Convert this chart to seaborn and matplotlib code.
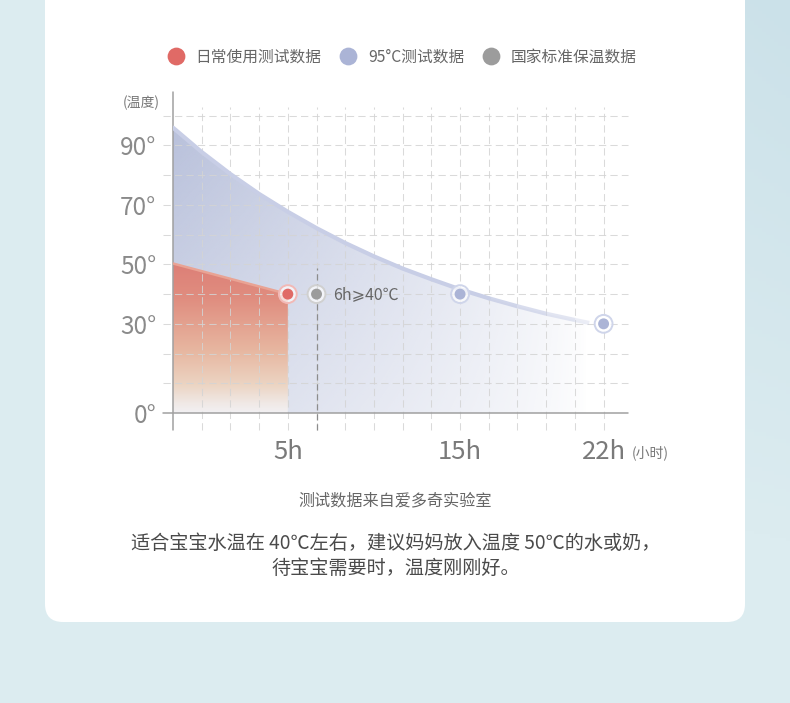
import numpy as np
import matplotlib
matplotlib.use("Agg")
import matplotlib.pyplot as plt
import seaborn as sns
from matplotlib.patches import FancyBboxPatch
from matplotlib.lines import Line2D
from matplotlib.transforms import blended_transform_factory

# --- data ---
BLUE_HOURS = [0, 1.25, 2.5, 3.75, 5, 6, 7.8, 9.6, 11.4, 13.2, 15, 16.4, 17.8, 19.2, 20.6, 21.3]
BLUE_TEMPS = [96, 87.8, 80.4, 73.7, 67.7, 62.2, 57.2, 52.7, 48.6, 45.0, 41.6, 38.6, 35.9, 33.4, 31.3, 30.3]
RED_HOURS = [0, 5]
RED_TEMPS = [50.3, 40]
POINT_HOURS = [5, 6, 15, 22]
POINT_TEMPS = [40, 40, 40, 30]
POINT_GROUP = ["daily", "national", "test95", "test95"]
X_TICKS = [5, 15, 22]
X_LABELS = ["5h", "15h", "22h"]
Y_TICKS = [0, 30, 50, 70, 90]
Y_LABELS = ["0°", "30°", "50°", "70°", "90°"]
LEGEND_LABELS = ["日常使用测试数据", "95°C测试数据", "国家标准保温数据"]
NOTE = "6h⩾40℃"

# the x axis is not linear in hours: piecewise scale between knots (grid slots)
KNOT_HOURS = [0, 5, 6, 15, 22, 30]
KNOT_SLOTS = [0, 4, 5, 10, 15, 15 + 8 / 1.4]

COLORS = {"daily": "#e06a66", "test95": "#abb4d6", "national": "#9c9c9c"}
RINGS = {"daily": "#f2b9b6", "test95": "#cfd5ea", "national": "#d0d0d0"}

sns.set_theme(style="white")
plt.rcParams["font.family"] = ["Noto Sans CJK SC", "DejaVu Sans"]

W, H = 790, 703
fig = plt.figure(figsize=(W / 100, H / 100), dpi=100)

# background + white card
bg = fig.add_axes([0, 0, 1, 1])
bg.set_xlim(0, W)
bg.set_ylim(H, 0)
bg.axis("off")
gx = np.linspace(0, 1, 200)
gy = np.linspace(0, 1, 200)
GX, GY = np.meshgrid(gx, gy)
shade = np.clip(GX * (1 - GY) * 1.3 - 0.3, 0, 1)
base = np.array([220, 236, 240]) / 255
dark = np.array([203, 225, 233]) / 255
bg_img = base[None, None, :] * (1 - shade[..., None]) + dark[None, None, :] * shade[..., None]
bg.imshow(bg_img, extent=[0, W, H, 0], aspect="auto", zorder=0)
bg.add_patch(FancyBboxPatch((45, -40), 700, 662, boxstyle="round,pad=0,rounding_size=18",
                            facecolor="white", edgecolor="none", zorder=1))

# texts on the card
bg.text(141, 103, "(温度)", fontsize=10, color="#777777", ha="center", va="center", zorder=2)
bg.text(650, 453, "(小时)", fontsize=10, color="#777777", ha="center", va="center", zorder=2)
bg.text(395, 501, "测试数据来自爱多奇实验室", fontsize=11.6, color="#666666",
        ha="center", va="center", zorder=2)
bg.text(396, 543, "适合宝宝水温在 40℃左右，建议妈妈放入温度 50℃的水或奶，", fontsize=13.8,
        color="#4a4a4a", ha="center", va="center", zorder=2)
bg.text(396, 568, "待宝宝需要时，温度刚刚好。", fontsize=13.8, color="#4a4a4a",
        ha="center", va="center", zorder=2)

# chart axes
ax = fig.add_axes([173 / W, 1 - 413 / H, 455 / W, 321 / H])
ax.set_facecolor("none")
ax.set_xscale("function", functions=(lambda h: np.interp(h, KNOT_HOURS, KNOT_SLOTS),
                                     lambda s: np.interp(s, KNOT_SLOTS, KNOT_HOURS)))
x_max = np.interp(15.85, KNOT_SLOTS, KNOT_HOURS)
YMAX = 108

# blue area with horizontal fade
blue_fill = ax.fill_between(BLUE_HOURS, BLUE_TEMPS, 0, facecolor="none", edgecolor="none")
fx = np.linspace(0, 1, 400)
fy = np.linspace(0, 1, 200)
FX, FY = np.meshgrid(fx, fy)
alpha = np.clip(1 - FX / 0.91, 0, 1) ** 0.72 * np.clip(0.58 + 0.42 * FY / 0.85, 0, 1)
blue_rgba = np.zeros((200, 400, 4))
blue_rgba[..., :3] = np.array([186, 194, 220]) / 255
blue_rgba[..., 3] = alpha
im_b = ax.imshow(blue_rgba, extent=[0, 1, 0, 1], transform=ax.transAxes, origin="lower",
                 aspect="auto", zorder=1, interpolation="bilinear")
im_b.set_clip_path(blue_fill.get_paths()[0], ax.transData)

# red area with vertical gradient
red_fill = ax.fill_between(RED_HOURS, RED_TEMPS, 0, facecolor="none", edgecolor="none")
deg = fy * YMAX
stop_deg = [0, 3, 9, 21, 38, 51]
stop_col = np.array([(242, 240, 242), (240, 233, 230), (236, 213, 196),
                     (231, 182, 160), (224, 142, 128), (221, 126, 118)]) / 255
red_col = np.stack([np.interp(deg, stop_deg, stop_col[:, c]) for c in range(3)], axis=1)
red_rgba = np.ones((200, 2, 4))
red_rgba[..., :3] = red_col[:, None, :]
im_r = ax.imshow(red_rgba, extent=[0, 1, 0, 1], transform=ax.transAxes, origin="lower",
                 aspect="auto", zorder=2, interpolation="bilinear")
im_r.set_clip_path(red_fill.get_paths()[0], ax.transData)

# grid (dashed, overshooting the axes)
inv = lambda s: np.interp(s, KNOT_SLOTS, KNOT_HOURS)
grid_kw = dict(color="#d4d4d4", lw=0.75, linestyle=(0, (7, 4)), alpha=0.85, clip_on=False, zorder=3)
ax.vlines(inv(np.arange(1, 16)), -17 / 2.97, 103, **grid_kw)
htrans = blended_transform_factory(ax.transAxes, ax.transData)
for yv in range(10, 101, 10):
    ax.plot([-10 / 455, 1], [yv, yv], transform=htrans, **grid_kw)

# 6h marker line
ax.vlines(6, -17 / 2.97, 48.8, color="#8c8c8c", lw=0.9, linestyle=(0, (5, 3)),
          clip_on=False, zorder=3)

# axis lines
ax.plot([-10 / 455, 1], [0, 0], transform=htrans, color="#a0a0a0", lw=1.1, clip_on=False, zorder=4)
vtrans = blended_transform_factory(ax.transData, ax.transAxes)
ax.plot([0, 0], [-17 / 321, 1], transform=vtrans, color="#a0a0a0", lw=1.1, clip_on=False, zorder=4)

# curves: blue line fades out over its last part
n_solid = 12
sns.lineplot(x=BLUE_HOURS[:n_solid], y=BLUE_TEMPS[:n_solid], ax=ax, color="#c8cee6", lw=3.0,
             zorder=4, sort=False)
n_tail = len(BLUE_HOURS) - n_solid + 1
for k in range(n_tail - 1):
    i = n_solid - 1 + k
    ax.plot(BLUE_HOURS[i:i + 2], BLUE_TEMPS[i:i + 2], color="#c8cee6", lw=3.0, zorder=4,
            alpha=1 - 0.8 * (k + 1) / n_tail, solid_capstyle="butt")
sns.lineplot(x=RED_HOURS, y=RED_TEMPS, ax=ax, color="#e9a394", lw=1.8, zorder=4)

# points with halo rings
sns.scatterplot(x=POINT_HOURS, y=POINT_TEMPS, hue=POINT_GROUP, palette=RINGS, ax=ax,
                s=165, linewidth=1.4, legend=False, zorder=5)
ring_coll = ax.collections[-1]
ring_coll.set_facecolor((1, 1, 1, 0.7))
ring_coll.set_edgecolor([RINGS[g] for g in POINT_GROUP])
sns.scatterplot(x=POINT_HOURS, y=POINT_TEMPS, hue=POINT_GROUP, palette=COLORS, ax=ax,
                s=62, edgecolor="none", legend=False, zorder=6)

ax.annotate(NOTE, (6, 40), xytext=(17, 0), textcoords="offset pixels", fontsize=11.5,
            color="#666666", va="center", ha="left", zorder=6,
            family=["Noto Sans CJK SC", "DejaVu Sans"])

ax.set_xlim(0, x_max)
ax.set_ylim(0, YMAX)
ax.set_xticks(X_TICKS, X_LABELS)
ax.set_yticks(Y_TICKS, Y_LABELS)
ax.tick_params(axis="x", length=0, pad=19, labelsize=18.5, labelcolor="#7a7a7a")
ax.tick_params(axis="y", length=0, pad=12, labelsize=17.5, labelcolor="#8a8a8a")
for lab in ax.get_xticklabels() + ax.get_yticklabels():
    lab.set_fontweight("light")
ax.minorticks_off()
for s in ax.spines.values():
    s.set_visible(False)

# legend
handles = [Line2D([], [], marker="o", linestyle="", markersize=12.8, markeredgewidth=0,
                  markerfacecolor=COLORS[g]) for g in ["daily", "test95", "national"]]
fig.legend(handles, LEGEND_LABELS, loc="center", bbox_to_anchor=(402 / W, 1 - 57 / H),
           ncol=3, frameon=False, fontsize=11.3, labelcolor="#666666", handlelength=1.1,
           handletextpad=0.7, columnspacing=1.15)

fig.savefig("out.png", dpi=100)
